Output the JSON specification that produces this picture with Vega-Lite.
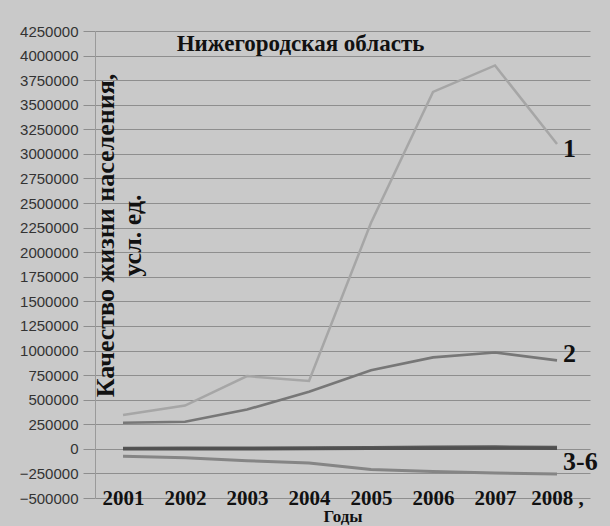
{
  "$schema": "https://vega.github.io/schema/vega-lite/v6.json",
  "autosize": "none",
  "width": 495,
  "height": 467,
  "padding": {"left": 95, "top": 31, "right": 20, "bottom": 28},
  "background": "#c9c9c9",
  "config": {"view": {"stroke": null}},
  "title": {
    "text": "Нижегородская область",
    "font": "Liberation Serif",
    "fontSize": 23,
    "fontWeight": "bold",
    "color": "#111",
    "anchor": "middle",
    "dx": -42,
    "offset": -43,
    "baseline": "middle"
  },
  "datasets": {
    "lines": [
      {"series": "1", "year": 2001, "value": 345000},
      {"series": "1", "year": 2002, "value": 440000},
      {"series": "1", "year": 2003, "value": 740000},
      {"series": "1", "year": 2004, "value": 690000},
      {"series": "1", "year": 2005, "value": 2300000},
      {"series": "1", "year": 2006, "value": 3630000},
      {"series": "1", "year": 2007, "value": 3900000},
      {"series": "1", "year": 2008, "value": 3100000},
      {"series": "2", "year": 2001, "value": 265000},
      {"series": "2", "year": 2002, "value": 275000},
      {"series": "2", "year": 2003, "value": 400000},
      {"series": "2", "year": 2004, "value": 580000},
      {"series": "2", "year": 2005, "value": 800000},
      {"series": "2", "year": 2006, "value": 930000},
      {"series": "2", "year": 2007, "value": 980000},
      {"series": "2", "year": 2008, "value": 900000},
      {"series": "3", "year": 2001, "value": 8000},
      {"series": "3", "year": 2002, "value": 9000},
      {"series": "3", "year": 2003, "value": 10000},
      {"series": "3", "year": 2004, "value": 12000},
      {"series": "3", "year": 2005, "value": 15000},
      {"series": "3", "year": 2006, "value": 20000},
      {"series": "3", "year": 2007, "value": 22000},
      {"series": "3", "year": 2008, "value": 18000},
      {"series": "4", "year": 2001, "value": 2000},
      {"series": "4", "year": 2002, "value": 3000},
      {"series": "4", "year": 2003, "value": 4000},
      {"series": "4", "year": 2004, "value": 5000},
      {"series": "4", "year": 2005, "value": 7000},
      {"series": "4", "year": 2006, "value": 9000},
      {"series": "4", "year": 2007, "value": 10000},
      {"series": "4", "year": 2008, "value": 9000},
      {"series": "5", "year": 2001, "value": -2000},
      {"series": "5", "year": 2002, "value": -2000},
      {"series": "5", "year": 2003, "value": -1000},
      {"series": "5", "year": 2004, "value": 0},
      {"series": "5", "year": 2005, "value": 2000},
      {"series": "5", "year": 2006, "value": 4000},
      {"series": "5", "year": 2007, "value": 5000},
      {"series": "5", "year": 2008, "value": 4000},
      {"series": "6", "year": 2001, "value": -75000},
      {"series": "6", "year": 2002, "value": -90000},
      {"series": "6", "year": 2003, "value": -120000},
      {"series": "6", "year": 2004, "value": -145000},
      {"series": "6", "year": 2005, "value": -210000},
      {"series": "6", "year": 2006, "value": -230000},
      {"series": "6", "year": 2007, "value": -245000},
      {"series": "6", "year": 2008, "value": -255000}
    ],
    "labels": [
      {"label": "1", "year": 2008, "value": 3050000},
      {"label": "2", "year": 2008, "value": 960000},
      {"label": "3-6", "year": 2008, "value": -130000}
    ]
  },
  "encoding": {
    "x": {
      "field": "year",
      "type": "quantitative",
      "scale": {"domain": [2000.548, 2008.532], "nice": false, "zero": false},
      "axis": {
        "values": [2001, 2002, 2003, 2004, 2005, 2006, 2007, 2008],
        "labelExpr": "datum.value == 2008 ? '2008 ,' : datum.value + ''",
        "grid": false,
        "domain": false,
        "ticks": false,
        "labelBaseline": "middle",
        "labelPadding": 0,
        "labelFont": "Liberation Serif",
        "labelFontSize": 21,
        "labelFontWeight": "bold",
        "labelColor": "#111",
        "labelFlush": false,
        "title": "Годы",
        "titleFont": "Liberation Serif",
        "titleFontSize": 17,
        "titleFontWeight": "bold",
        "titleColor": "#111",
        "titlePadding": 0
      }
    },
    "y": {
      "field": "value",
      "type": "quantitative",
      "scale": {"domain": [-500000, 4250000], "nice": false, "zero": false},
      "axis": {
        "values": [-500000, -250000, 0, 250000, 500000, 750000, 1000000, 1250000, 1500000, 1750000, 2000000, 2250000, 2500000, 2750000, 3000000, 3250000, 3500000, 3750000, 4000000, 4250000],
        "format": "d",
        "grid": true,
        "gridColor": "#8e8e8e",
        "gridWidth": 1.2,
        "gridOpacity": 1,
        "tickSize": 12,
        "tickColor": "#8e8e8e",
        "domainColor": "#9a9a9a",
        "labelFont": "Liberation Sans",
        "labelFontSize": 15,
        "labelColor": "#333",
        "labelPadding": 5,
        "title": ["Качество жизни населения,", "усл. ед."],
        "titleFont": "Liberation Serif",
        "titleFontSize": 26,
        "titleFontWeight": "bold",
        "titleColor": "#111",
        "titleAngle": -90,
        "titleAlign": "center",
        "titleBaseline": "middle",
        "titleX": 10,
        "titleY": 204,
        "titleLineHeight": 27
      }
    }
  },
  "layer": [
    {
      "data": {"name": "lines"},
      "mark": {"type": "line", "interpolate": "linear"},
      "encoding": {
        "detail": {"field": "series"},
        "color": {
          "field": "series",
          "type": "nominal",
          "scale": {"domain": ["1", "2", "3", "4", "5", "6"], "range": ["#a6a6a6", "#777777", "#5a5a5a", "#555555", "#505050", "#858585"]},
          "legend": null
        },
        "strokeWidth": {
          "field": "series",
          "type": "nominal",
          "scale": {"domain": ["1", "2", "3", "4", "5", "6"], "range": [2.5, 3, 4, 4, 4, 2.5]},
          "legend": null
        }
      }
    },
    {
      "data": {"name": "labels"},
      "mark": {"type": "text", "align": "left", "baseline": "middle", "dx": 6, "font": "Liberation Serif", "fontSize": 26, "fontWeight": "bold", "color": "#111"},
      "encoding": {"text": {"field": "label"}}
    }
  ]
}
